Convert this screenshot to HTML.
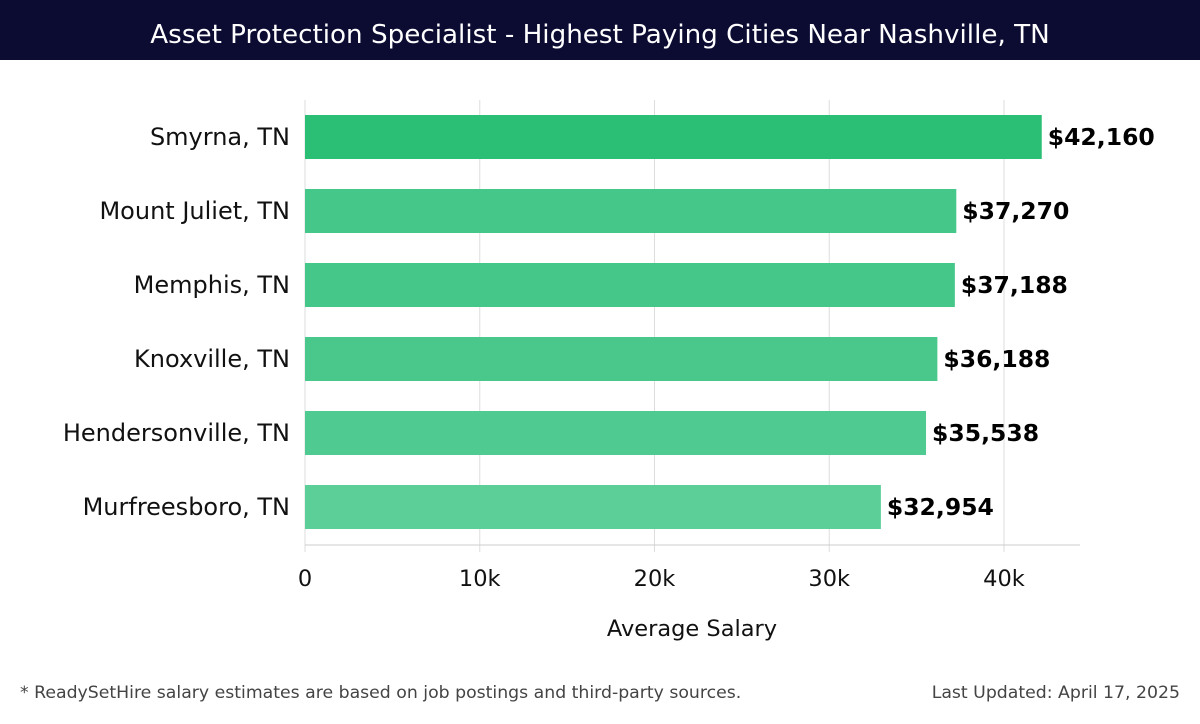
<!DOCTYPE html>
<html><head><meta charset="utf-8"><style>
body{margin:0;width:1200px;height:720px;background:#fff;font-family:"DejaVu Sans","Liberation Sans",sans-serif;overflow:hidden}
</style></head><body>
<svg width="1200" height="720" font-family="DejaVu Sans, Liberation Sans, sans-serif">
<rect x="0" y="0" width="1200" height="60" fill="#0c0c33"/>
<text x="600" y="43" text-anchor="middle" fill="#fff" font-size="26.2">Asset Protection Specialist - Highest Paying Cities Near Nashville, TN</text>
<g id="grid"></g><g id="bars"></g>
<line x1="305" y1="545" x2="1080" y2="545" stroke="#ccc"/>
<text x="692" y="636" text-anchor="middle" font-size="22.5" fill="#111">Average Salary</text>
<text x="20" y="698" font-size="17.3" fill="#444">* ReadySetHire salary estimates are based on job postings and third-party sources.</text>
<text x="1180" y="698" text-anchor="end" font-size="17.3" fill="#444">Last Updated: April 17, 2025</text>
</svg>
<script>
const categories=["Smyrna, TN","Mount Juliet, TN","Memphis, TN","Knoxville, TN","Hendersonville, TN","Murfreesboro, TN"];
const values=[42160,37270,37188,36188,35538,32954];
const ticks=[0,10000,20000,30000,40000];
const tickLabels=["0","10k","20k","30k","40k"];
const NS="http://www.w3.org/2000/svg";
const x=v=>305+v*(1004-305)/40000;
const y=i=>137+i*74;
function mk(t,a,p){const e=document.createElementNS(NS,t);for(const k in a)e.setAttribute(k,a[k]);p.appendChild(e);return e;}
const g=document.getElementById('grid'),b=document.getElementById('bars');
ticks.forEach((t,i)=>{
 const l=mk('line',{x1:x(t),x2:x(t),y1:100,y2:552,stroke:'#ddd'},g);
 
 
 const tx=mk('text',{x:x(t),y:586,'text-anchor':'middle','font-size':22.5,fill:'#111'},g);
 tx.textContent=tickLabels[i];
 
 
});
const cols=["#2bbf75","#46c78a","#46c78a","#4ac88c","#4fca90","#5ccf98"];
categories.forEach((c,i)=>{
 const r=mk('rect',{x:x(0),y:y(i)-22,width:x(values[i])-x(0),height:44,fill:cols[i]},b);
 
 
 const lb=mk('text',{x:290,y:y(i)+8,'text-anchor':'end','font-size':24,fill:'#111'},b);
 lb.textContent=c;
 
 
 const v=mk('text',{x:x(values[i])+6,y:y(i)+8,'font-size':23.5,'font-weight':'bold',fill:'#000'},b);
 v.textContent='$'+values[i].toLocaleString('en-US');
 
 
});
</script>
</body></html>
